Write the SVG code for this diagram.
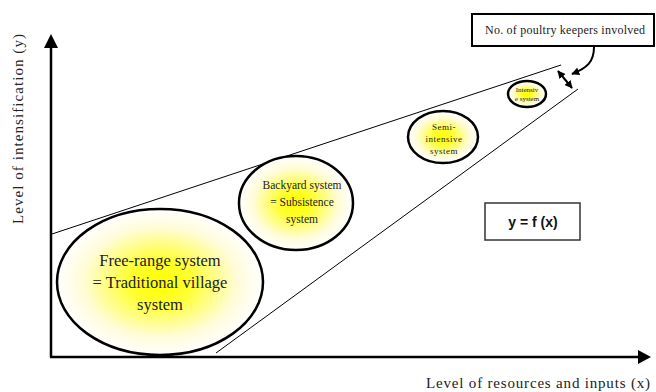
<svg xmlns="http://www.w3.org/2000/svg" width="656" height="392" viewBox="0 0 656 392">
<defs>
<radialGradient id="yg" cx="50%" cy="50%" r="50%">
<stop offset="0" stop-color="#ffff00"/>
<stop offset="0.3" stop-color="#ffff30"/>
<stop offset="0.75" stop-color="#fffcd8"/>
<stop offset="1" stop-color="#ffffff"/>
</radialGradient>
<marker id="ah2" viewBox="0 0 10 10" refX="9" refY="5" markerWidth="8" markerHeight="8" orient="auto-start-reverse" markerUnits="userSpaceOnUse">
<path d="M0,0 L10,5 L0,10 z" fill="#000"/>
</marker>
</defs>
<style>
.ell{fill:url(#yg);stroke:#000;stroke-width:2.5}
.t{font-family:"Liberation Serif","Times New Roman",serif;fill:#222;text-anchor:middle}
.ax{stroke:#000;stroke-width:2.5;fill:none}
.ln{stroke:#000;stroke-width:1;fill:none}
</style>
<rect width="656" height="392" fill="#fff"/>
<g id="connectors">
<line class="ax" x1="51" y1="357" x2="51" y2="48"/>
<path d="M44,48 L58,48 L51,34 z" fill="#000"/>
<line class="ax" x1="50" y1="357" x2="638" y2="357"/>
<path d="M638,350 L638,364 L651,357 z" fill="#000"/>
<line class="ln" x1="52" y1="234" x2="561" y2="65"/>
<line class="ln" x1="216" y1="353" x2="578" y2="89"/>
<line x1="558" y1="71" x2="572" y2="88" stroke="#000" stroke-width="2" marker-start="url(#ah2)" marker-end="url(#ah2)"/>
<path d="M594,47 C594,62 587,68 572,74" stroke="#000" stroke-width="2" fill="none" marker-end="url(#ah2)"/>
</g>
<g id="free-range">
<ellipse class="ell" cx="160" cy="282" rx="103" ry="73"/>
<text class="t" font-size="16.5" x="160" y="266">Free-range system</text>
<text class="t" font-size="16.5" x="160" y="288">= Traditional village</text>
<text class="t" font-size="16.5" x="160" y="310">system</text>
</g>
<g id="backyard">
<ellipse class="ell" cx="296" cy="203" rx="57" ry="47"/>
<text class="t" font-size="11.5" x="302" y="189">Backyard system</text>
<text class="t" font-size="11.5" x="302" y="206">= Subsistence</text>
<text class="t" font-size="11.5" x="302" y="223">system</text>
</g>
<g id="semi-intensive">
<ellipse class="ell" cx="443" cy="137" rx="35" ry="26"/>
<text class="t" font-size="9" x="444" y="130" letter-spacing="0.5">Semi-</text>
<text class="t" font-size="9" x="444" y="142" letter-spacing="0.5">intensive</text>
<text class="t" font-size="9" x="444" y="154" letter-spacing="0.5">system</text>
</g>
<g id="intensive">
<ellipse class="ell" cx="527" cy="94" rx="19" ry="13"/>
<text class="t" font-size="7" x="527" y="92">Intensiv</text>
<text class="t" font-size="7" x="527" y="101">e system</text>
</g>
<g id="keepers">
<rect x="472" y="14" width="182" height="32" fill="#fff" stroke="#000" stroke-width="2"/>
<text class="t" font-size="12" x="565" y="34" textLength="160" lengthAdjust="spacing">No. of poultry keepers involved</text>
</g>
<g id="formula">
<rect x="485" y="203" width="95" height="37" fill="#fff" stroke="#333" stroke-width="1.5"/>
<text x="533" y="227" font-family="Liberation Sans,Arial,sans-serif" font-weight="bold" font-size="14" text-anchor="middle" fill="#111">y = f (x)</text>
</g>
<g id="labels">
<text class="t" font-size="15" transform="translate(23,129) rotate(-90)" textLength="190" lengthAdjust="spacing">Level of intensification (y)</text>
<text class="t" font-size="15" x="650" y="388" style="text-anchor:end" textLength="224" lengthAdjust="spacing">Level of resources and inputs (x)</text>
</g>
</svg>
